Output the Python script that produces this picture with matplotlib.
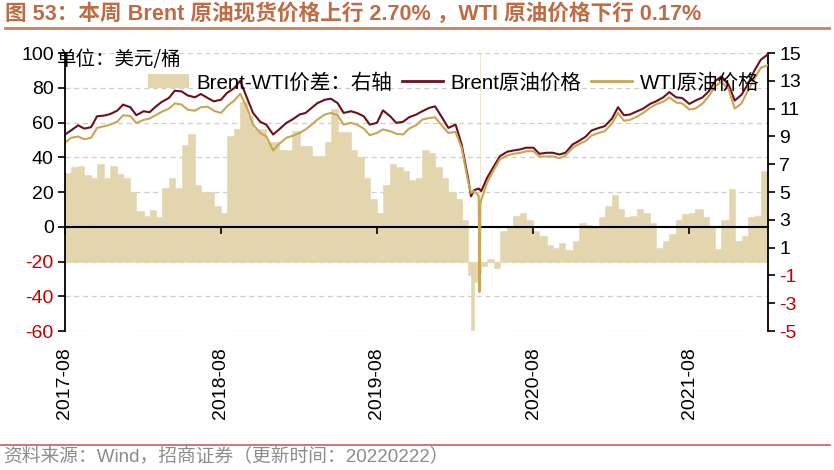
import numpy as np
import pandas as pd
import matplotlib
matplotlib.use('Agg')
import matplotlib.pyplot as plt
import matplotlib.dates as mdates
from matplotlib.ticker import FixedLocator
from matplotlib.patches import Patch
from matplotlib.lines import Line2D

plt.rcParams['font.family'] = ['Liberation Sans', 'Noto Sans CJK SC', 'DejaVu Sans']
plt.rcParams['axes.unicode_minus'] = False

# ---------------- data (semi-monthly readings, 2017-08-01 .. 2022-02-01) ----------------
start_date = '2017-08-01'
end_date = '2022-02-01'

brent = [
    53.1, 55.4, 58.4, 56.5, 57.3, 63.6, 64.0, 64.9, 66.8, 70.3,
    68.8, 64.2, 66.5, 65.9, 69.1, 71.8, 74.1, 78.3, 77.9, 75.6,
    74.5, 76.4, 74.1, 72.2, 73.1, 77.0, 79.8, 84.0, 74.1, 65.5,
    60.4, 58.8, 53.1, 56.0, 59.8, 61.7, 64.6, 65.5, 68.4, 71.2,
    73.1, 73.7, 71.2, 65.5, 66.5, 65.5, 63.6, 58.8, 59.8, 67.0,
    63.6, 59.8, 60.4, 63.0, 64.6, 66.5, 68.4, 69.3, 62.6, 56.9,
    58.8, 47.4, 28.3, 21.0, 20.5, 28.3, 35.0, 40.7, 43.2, 43.9,
    44.5, 45.5, 45.5, 42.0, 42.6, 42.6, 41.6, 42.6, 47.4, 49.3,
    51.8, 55.4, 56.9, 57.9, 62.3, 68.8, 64.2, 64.6, 66.5, 68.0,
    70.7, 72.2, 74.5, 77.5, 74.5, 74.1, 70.7, 72.6, 74.5, 77.9,
    84.0, 86.5, 81.7, 72.6, 76.0, 81.7, 90.3, 96.1, 99.3]

wti = [
    48.3, 51.2, 51.9, 50.4, 51.2, 56.9, 57.9, 58.8, 60.4, 64.2,
    63.7, 59.8, 61.5, 62.3, 64.2, 66.1, 68.0, 71.0, 70.3, 67.4,
    66.8, 68.8, 69.1, 66.8, 65.5, 69.3, 72.6, 76.5, 68.4, 58.8,
    54.0, 52.1, 43.9, 47.7, 51.2, 52.3, 54.0, 56.0, 58.8, 61.7,
    64.6, 65.5, 64.2, 58.8, 59.8, 58.8, 56.5, 52.7, 54.0, 56.0,
    55.0, 53.5, 53.1, 56.5, 58.5, 61.7, 62.6, 63.0, 57.9, 54.0,
    54.6, 45.5, 26.4, 20.5, 15.5, 25.5, 33.0, 39.0, 41.0, 42.0,
    42.5, 43.5, 43.5, 40.5, 40.5, 40.5, 39.5, 41.0, 45.5, 47.5,
    49.3, 52.5, 54.0, 55.0, 59.5, 65.5, 61.0, 61.5, 63.5, 65.5,
    68.5, 70.5, 72.0, 74.5, 71.5, 71.0, 67.5, 68.0, 71.0, 75.0,
    81.0, 83.5, 79.0, 68.0, 71.0, 78.0, 85.5, 91.5, 93.0]

spread = [
    6.4, 6.8, 6.9, 6.2, 6.0, 7.0, 6.0, 6.9, 6.3, 6.0,
    5.0, 3.6, 3.3, 3.7, 3.2, 5.3, 6.0, 5.3, 8.4, 9.2,
    5.5, 5.0, 5.0, 4.0, 3.5, 9.0, 9.5, 11.5, 10.5, 9.5,
    9.5, 8.6, 8.6, 8.0, 8.0, 9.4, 8.3, 8.3, 7.6, 7.6,
    8.6, 11.0, 9.3, 9.3, 8.0, 7.5, 6.0, 4.5, 3.5, 5.5,
    7.0, 6.8, 6.5, 5.9, 6.0, 8.0, 7.8, 6.8, 6.0, 5.0,
    4.5, 3.0, -1.0, -1.5, -0.3, 0.2, -0.5, 2.2, 2.5, 3.3,
    3.5, 3.0, 2.2, 1.8, 1.2, 1.0, 1.3, 0.8, 1.5, 2.8,
    2.6, 2.5, 3.2, 4.0, 4.8, 3.8, 3.2, 3.3, 3.8, 3.5,
    2.8, 1.0, 1.5, 2.0, 3.0, 3.4, 3.5, 3.8, 3.2, 2.5,
    0.9, 3.0, 5.2, 1.5, 1.8, 3.2, 3.3, 6.5, 7.5]

# extra readings around the 2020 crash (narrow spikes)
extra_dates = ['2020-03-08', '2020-03-26', '2020-03-28', '2020-03-30']
extra_brent = [17.5, 22.0, 21.5, 21.0]
extra_wti = [19.5, 18.0, -37.6, 13.0]
extra_spread = [-5.0, -1.2, 62.0, -0.8]

tick_dates = ['2017-08-01', '2018-08-01', '2019-08-01', '2020-08-01', '2021-08-01']
tick_labels = ['2017-08', '2018-08', '2019-08', '2020-08', '2021-08']
left_ticks = [-60, -40, -20, 0, 20, 40, 60, 80, 100]
right_ticks = [-5, -3, -1, 1, 3, 5, 7, 9, 11, 13, 15]

title = '图 53：本周 Brent 原油现货价格上行 2.70% ，WTI 原油价格下行 0.17%'
source = '资料来源：Wind，招商证券（更新时间：20220222）'
unit = '单位：美元/桶'
labels = ['Brent-WTI价差：右轴', 'Brent原油价格', 'WTI原油价格']

BAR = '#E3D5AD'
BRENT = '#6E0F1A'
WTI = '#C8A653'
RED = '#C00000'
GRID = '#CFCFCF'

# ---------------- assemble ----------------
df = pd.DataFrame({'date': pd.date_range(start_date, end_date, freq='SMS'),
                   'brent': brent, 'wti': wti, 'spread': spread})
ex = pd.DataFrame({'date': pd.to_datetime(extra_dates), 'brent': extra_brent,
                   'wti': extra_wti, 'spread': extra_spread})
df = pd.concat([df, ex]).sort_values('date').reset_index(drop=True)

x = mdates.date2num(df['date'])
widths = np.append(np.diff(x), 1.0)
tick_x = mdates.date2num(pd.to_datetime(tick_dates))

fig = plt.figure(figsize=(8.34, 4.70), dpi=100)
ax = fig.add_axes([0.0779, 0.2957, 0.843, 0.5915])
ax2 = ax.twinx()
ax.set_zorder(ax2.get_zorder() + 1)
ax.patch.set_visible(False)

# spread bars on right axis
ax2.bar(x, df['spread'], width=widths, align='edge', color=BAR,
        edgecolor=BAR, linewidth=0.4)
ax2.set_ylim(right_ticks[0], right_ticks[-1])
ax2.set_yticks(right_ticks)

# grid lines at the left-axis ticks, drawn behind the bars
grid_r = [(v + 20) / 8 for v in left_ticks]
ax2.yaxis.remove_overlapping_locs = False
ax2.yaxis.set_minor_locator(FixedLocator(grid_r))
ax2.grid(axis='y', which='minor', color=GRID, linestyle=(0, (4, 3)), linewidth=0.9)
ax2.set_axisbelow(True)
ax2.tick_params(axis='y', which='minor', length=0)
ax2.tick_params(axis='y', which='major', direction='out', length=5, width=1.2,
                labelsize=14, pad=3)
for lab, v in zip(ax2.get_yticklabels(), right_ticks):
    lab.set_color(RED if v < 0 else 'black')
for s in ['top', 'bottom', 'left']:
    ax2.spines[s].set_visible(False)
ax2.spines['right'].set_linewidth(1.3)

# price lines on left axis
ax.plot(x, df['brent'], color=BRENT, lw=1.5)
ax.plot(x, df['wti'], color=WTI, lw=1.5)
ax.set_xlim(x[0], x[-1])
ax.set_ylim(left_ticks[0], left_ticks[-1])
ax.set_yticks(left_ticks)
ax.tick_params(axis='y', direction='out', length=5, width=1.2, labelsize=14, pad=3)
for lab, v in zip(ax.get_yticklabels(), left_ticks):
    lab.set_color(RED if v < 0 else 'black')
for s in ['top', 'bottom', 'right']:
    ax.spines[s].set_visible(False)
ax.spines['left'].set_linewidth(1.3)

ax.set_xticks(tick_x)
ax.set_xticklabels(tick_labels, rotation=90, fontsize=14)
ax.tick_params(axis='x', length=0, pad=11.5)

# zero line with year ticks
zero_loc = (0 - left_ticks[0]) / (left_ticks[-1] - left_ticks[0])
sec = ax.secondary_xaxis(zero_loc)
sec.set_xticks(tick_x)
sec.tick_params(axis='x', direction='out', length=5, width=1.2,
                labelbottom=False, labeltop=False)
sec.spines['bottom'].set_linewidth(1.5)

# unit text and legend
ax.text(-0.011, 0.975, unit, transform=ax.transAxes, fontsize=14,
        va='center', ha='left', family=['Noto Sans CJK SC', 'DejaVu Sans'])
handles = [Patch(facecolor=BAR, edgecolor='none'),
           Line2D([], [], color=BRENT, lw=2),
           Line2D([], [], color=WTI, lw=2)]
ax.legend(handles, labels, loc='center left', bbox_to_anchor=(0.118, 0.893),
          ncol=3, frameon=False, fontsize=14.8, handlelength=2.0, handleheight=0.67,
          handletextpad=0.38, columnspacing=0.45, borderpad=0, borderaxespad=0)

# title, rules, source
fig.text(0.006, 0.970, title, fontsize=15.6, fontweight='bold', color='#BF6C44',
         va='center', ha='left')
fig.add_artist(Line2D([0.006, 0.994], [0.9404, 0.9404], transform=fig.transFigure,
                      color='#C9825E', lw=2))
fig.add_artist(Line2D([0.0, 0.995], [0.0532, 0.0532], transform=fig.transFigure,
                      color='#C8605A', lw=1.2))
fig.text(0.004, 0.0277, source, fontsize=13.5, color='#8C8C8C', va='center', ha='left')

fig.savefig('out.png', dpi=100)
